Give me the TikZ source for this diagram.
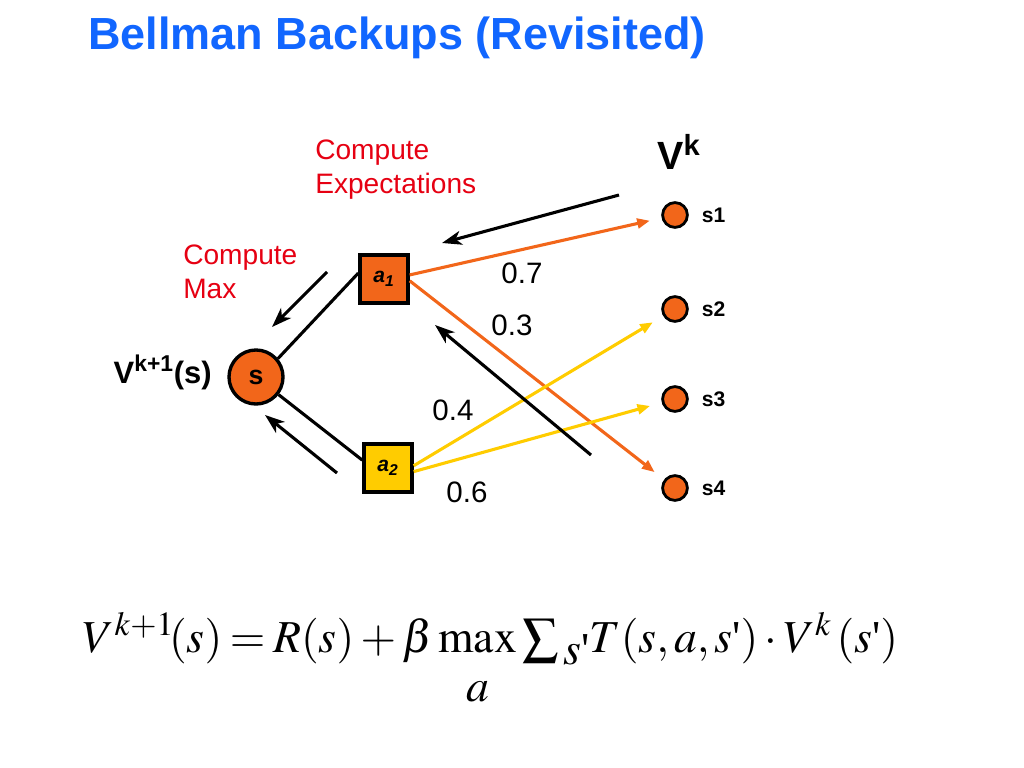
\documentclass[tikz,border=0pt]{standalone}
\usepackage{graphicx}
\usepackage{mathptmx}
\usepackage[no-math]{fontspec}
\setmainfont{Liberation Sans}
\newfontfamily\eqfont{Liberation Serif}
\usetikzlibrary{arrows.meta}
\definecolor{titleblue}{RGB}{17,102,255}
\definecolor{notered}{RGB}{230,0,18}
\definecolor{actorange}{RGB}{242,102,26}
\definecolor{actyellow}{RGB}{255,204,0}
\newcommand\sqt{\mbox{\eqfont\textquotesingle}}

\tikzset{
  leaf/.style={circle,draw,line width=2pt,fill=actorange,inner sep=0pt,minimum size=0.62cm},
  act/.style={rectangle,draw,line width=2.4pt,inner sep=0pt,minimum size=1.2cm,
              font=\bfseries\itshape\fontsize{15}{15}\selectfont},
  note/.style={align=left,anchor=base west,inner sep=0pt,text=notered,font=\fontsize{20}{24}\selectfont},
  prob/.style={font=\fontsize{21}{21}\selectfont},
  back/.style={line width=2.2pt,-{Stealth[length=14pt,width=10pt,inset=4pt]}},
  trans/.style={line width=2.2pt,-{Triangle[length=9pt,width=7pt]},shorten >=0.3cm}
}

\begin{document}
\begin{tikzpicture}[x=0.025cm,y=-0.025cm]
   \useasboundingbox (0,0) rectangle (1024,768);
   \node[anchor=base west,inner sep=0pt,text=titleblue,font=\bfseries\fontsize{32}{38}\selectfont] (title) at (88,50) {Bellman Backups (Revisited)};

   % root state and actions
   \node[circle,draw,line width=2.4pt,fill=actorange,minimum size=1.35cm,inner sep=0pt,
         font=\bfseries\fontsize{19}{19}\selectfont] (s) at (256,377) {s};
   \node[anchor=base east,inner sep=0pt,font=\bfseries\fontsize{22}{22}\selectfont] (vs) at (212,383) {V\textsuperscript{k+1}(s)};
   \node[act,fill=actorange] (a1) at (384,279) {a\textsubscript{1}};
   \node[act,fill=actyellow] (a2) at (388,468) {a\textsubscript{2}};

   % successor states
   \node[leaf] (s1) at (675,215) {};
   \node[leaf] (s2) at (675,309) {};
   \node[leaf] (s3) at (675,399) {};
   \node[leaf] (s4) at (675,488) {};
   \foreach \i in {1,...,4}
     \node[anchor=west,font=\bfseries\fontsize{15}{15}\selectfont] (l\i) at ([xshift=0.55cm]s\i.center) {s\i};
   \node[anchor=base west,inner sep=0pt,font=\bfseries\fontsize{28}{28}\selectfont] (vk) at (657,170) {V\textsuperscript{k}};

   % red notes
   \node[note] (expect) at (315,193) {Compute\\Expectations};
   \node[note] (maxnote) at (183,298) {Compute\\Max};

   % probabilities
   \node[prob] (p07) at (522,273) {0.7};
   \node[prob] (p03) at (512,325) {0.3};
   \node[prob] (p04) at (453,410) {0.4};
   \node[prob] (p06) at (467,492) {0.6};

   \path[line width=2.2pt]
       (s.40) edge (a1.167)
       (s.-38) edge (a2.163);
   \path[trans,actorange]
       (a1.9) edge (s1)
       (a1.-4) edge (s4);
   \path[trans,actyellow]
       (a2.5) edge (s2)
       (a2.-8) edge (s3);

   % backup arrows
   \coordinate (e1) at (619,195);  \coordinate (e2) at (442,243);
   \coordinate (e3) at (591,455);  \coordinate (e4) at (435,325);
   \coordinate (m1) at (327,272);  \coordinate (m2) at (272,327);
   \coordinate (m3) at (337,473);  \coordinate (m4) at (265,415);
   \draw[back] (e1) -- (e2);
   \draw[back] (e3) -- (e4);
   \draw[back] (m1) -- (m2);
   \draw[back] (m3) -- (m4);

   \node[anchor=base west,inner sep=0pt,font=\fontsize{32.5}{40}\selectfont] (eq) at (83,652)
     {\thickmuskip=3mu\medmuskip=2.5mu\thinmuskip=2mu
      $V^{k+1}\!(s)=R(s)+\beta\mathop{\max}\limits_{\raisebox{-15pt}{$a$}}
       \mathop{\vcenter{\hbox{\scalebox{1.12}{$\textstyle\sum$}}}}\raisebox{-9pt}{$s$\sqt}
       T(s,a,s\sqt)\cdot V^{k}\,(s\sqt)$};
\end{tikzpicture}
\end{document}
